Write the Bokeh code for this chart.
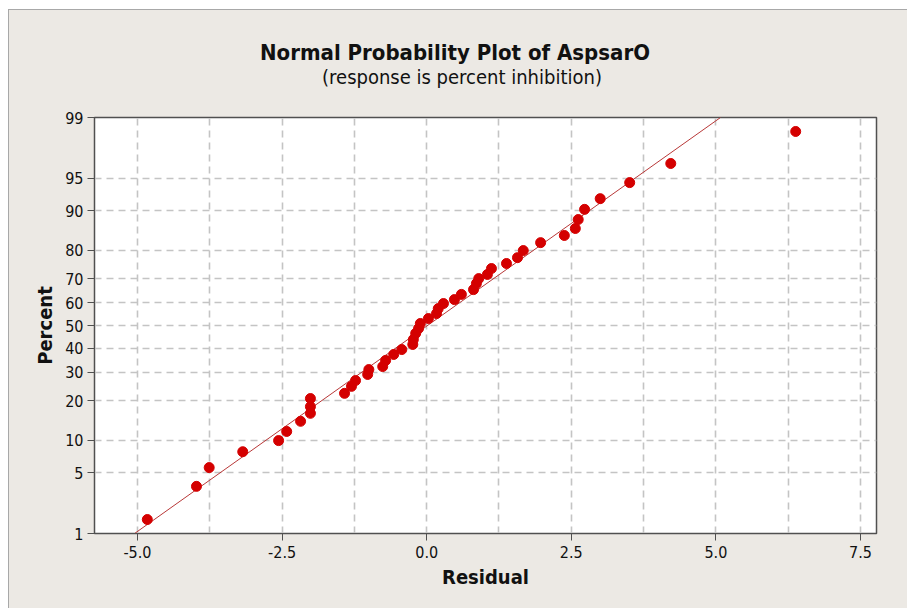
from statistics import NormalDist
from bokeh.plotting import figure
from bokeh.layouts import column
from bokeh.models import FixedTicker, Range1d, Div
from bokeh.embed import file_html
from bokeh.resources import INLINE

# ---- data ----
residual = [-4.83, -3.98, -3.76, -3.18, -2.56, -2.42, -2.18, -2.01, -2.01, -2.01,
            -1.42, -1.30, -1.23, -1.02, -1.00, -0.76, -0.71, -0.57, -0.43, -0.24,
            -0.23, -0.19, -0.14, -0.11, 0.03, 0.17, 0.20, 0.29, 0.48, 0.60,
            0.81, 0.86, 0.90, 1.05, 1.12, 1.38, 1.57, 1.67, 1.97, 2.38,
            2.57, 2.62, 2.73, 3.00, 3.51, 4.22, 6.38]
percent = [1.5, 3.6, 5.6, 7.9, 9.9, 11.8, 14.2, 16.3, 18.2, 20.7,
           22.4, 24.8, 26.9, 29.2, 31.1, 32.3, 34.8, 37.3, 39.4, 41.6,
           43.8, 46.5, 48.7, 50.9, 53.1, 55.3, 57.5, 59.7, 61.4, 63.6,
           65.6, 68.1, 70.0, 71.6, 73.8, 75.6, 77.6, 79.9, 82.3, 84.3,
           86.1, 88.2, 90.3, 92.2, 94.5, 96.5, 98.5]
fit_x = [-5.05, 5.08]
fit_pct = [1, 99]
y_ticks_pct = [1, 5, 10, 20, 30, 40, 50, 60, 70, 80, 90, 95, 99]
x_ticks = [-5.0, -2.5, 0.0, 2.5, 5.0, 7.5]
x_grid = [-5.0, -3.75, -2.5, -1.25, 0.0, 1.25, 2.5, 3.75, 5.0, 6.25, 7.5]
title_text = "Normal Probability Plot of AspsarO"
subtitle_text = "(response is percent inhibition)"

nd = NormalDist()
def probit(p):
    return nd.inv_cdf(p / 100.0)

FONT = "'Liberation Sans Narrow', 'DejaVu Sans Condensed', 'Liberation Sans', sans-serif"
BG = "#ECE9E4"
HEADER_H = 96

header = Div(
    text=(
        f"<div style=\"position:relative;width:899px;height:{HEADER_H}px;"
        f"font-family:{FONT.replace(chr(39), '&#39;')};color:#111111;\">"
        f"<div style=\"position:absolute;left:0px;top:32px;width:892px;text-align:center;"
        f"font-size:22px;font-weight:bold;line-height:22px;\">{title_text}</div>"
        f"<div style=\"position:absolute;left:7px;top:57px;width:892px;text-align:center;"
        f"font-size:20px;line-height:20px;\">{subtitle_text}</div>"
        f"</div>"
    ),
    width=899, height=HEADER_H, margin=(0, 0, 0, 0),
    styles={"background-color": BG},
)

X0, X1 = -5.743, 7.777
Y0, Y1 = probit(1), probit(99)
p = figure(width=899, height=599 - HEADER_H, output_backend="svg", toolbar_location=None,
           x_range=Range1d(X0, X1), y_range=Range1d(Y0, Y1),
           min_border_left=85, min_border_right=32, min_border_top=107 - HEADER_H,
           min_border_bottom=76, margin=(0, 0, 0, 0))
p.background_fill_color = "white"
p.border_fill_color = BG
p.outline_line_color = "#505050"
p.outline_line_width = 1.5

# axes
p.xaxis.ticker = FixedTicker(ticks=x_ticks)
p.xaxis.major_label_overrides = {t: f"{t:.1f}" for t in x_ticks}
p.yaxis.ticker = FixedTicker(ticks=[probit(v) for v in y_ticks_pct])
p.yaxis.major_label_overrides = {probit(v): str(v) for v in y_ticks_pct}
for ax in (p.xaxis[0], p.yaxis[0]):
    ax.axis_line_color = "#505050"
    ax.major_tick_line_color = "#505050"
    ax.major_tick_out = 7
    ax.major_tick_in = 0
    ax.minor_tick_line_color = None
    ax.major_label_text_font = FONT
    ax.major_label_text_font_size = "16px"
    ax.major_label_text_color = "#111111"
    ax.axis_label_text_font = FONT
    ax.axis_label_text_font_size = "20px"
    ax.axis_label_text_font_style = "bold"
    ax.axis_label_text_color = "#111111"
p.xaxis.axis_label = "Residual"
p.yaxis.axis_label = "Percent"
p.xaxis.major_label_standoff = 5
p.xaxis.axis_label_standoff = 4
p.yaxis.major_label_standoff = 4
p.yaxis.axis_label_standoff = 5

# grids
p.xgrid.ticker = FixedTicker(ticks=x_grid)
p.ygrid.ticker = FixedTicker(ticks=[probit(v) for v in y_ticks_pct[1:-1]])
for g in (p.xgrid[0], p.ygrid[0]):
    g.grid_line_color = "#C4C4C4"
    g.grid_line_dash = "7 5"
    g.grid_line_width = 1.6

# fitted line
p.line(fit_x, [probit(v) for v in fit_pct], line_color="#B83838", line_width=1)

# points
p.scatter(residual, [probit(v) for v in percent], size=10, marker="circle",
          fill_color="#D40000", line_color="#D40000")

layout = column(header, p, spacing=0, margin=(9, 0, 0, 8),
                styles={"border-top": "1px solid #A8A8A8", "border-left": "1px solid #A8A8A8",
                        "background-color": BG})

open("out.html", "w").write(file_html(layout, INLINE))
